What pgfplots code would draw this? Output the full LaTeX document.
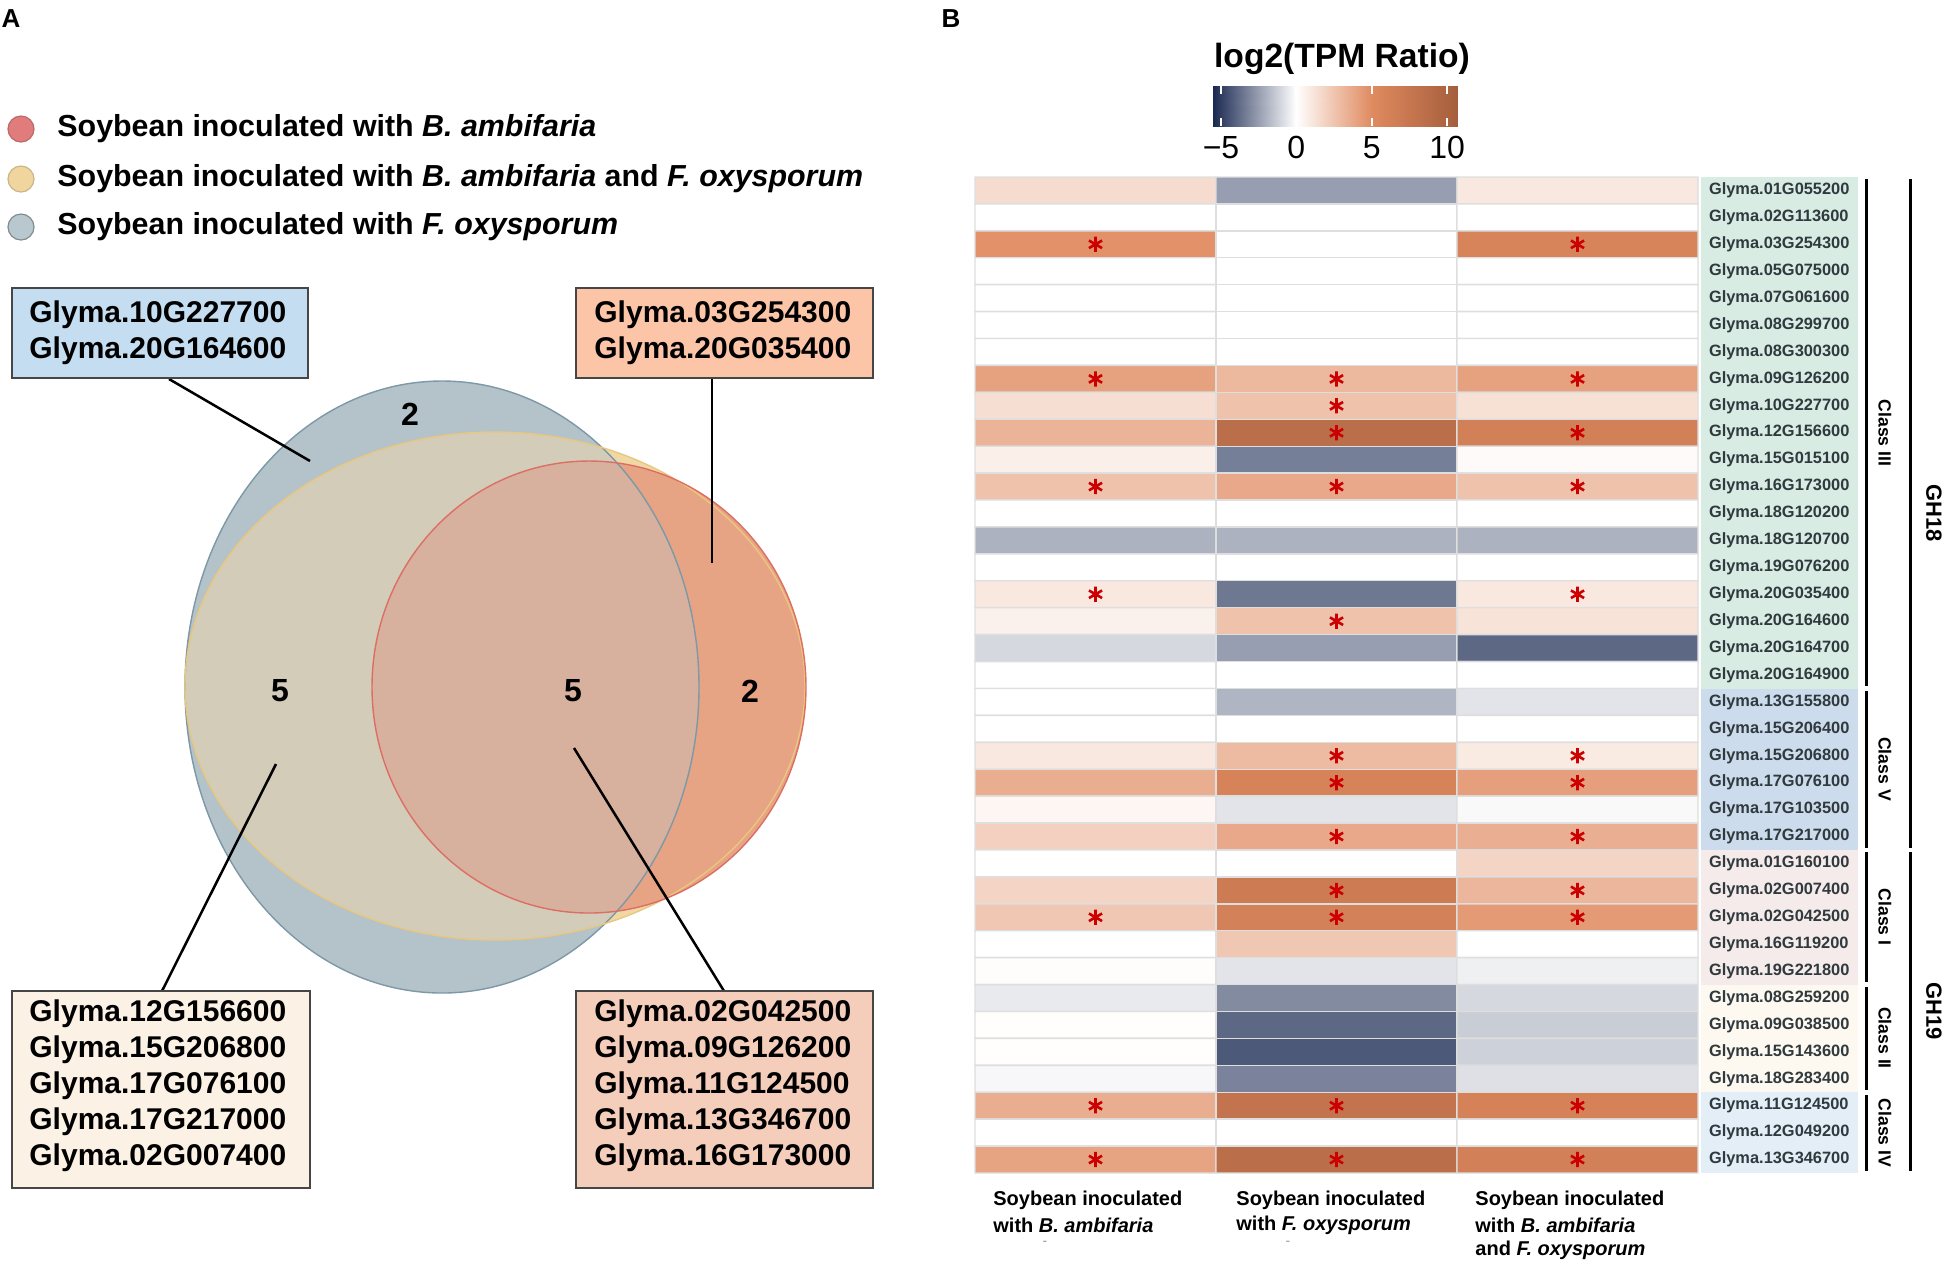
\documentclass[border=0pt]{standalone}
\usepackage{pgfplots}
\pgfplotsset{compat=1.18}
\usepackage{fontspec}
\setmainfont{Liberation Sans}
\definecolor{vgray}{RGB}{180,194,201}
\definecolor{vgrayline}{RGB}{125,152,166}
\definecolor{vyel}{RGB}{240,216,166}
\definecolor{vyelgray}{RGB}{211,204,185}
\definecolor{vyelline}{RGB}{233,199,126}
\definecolor{vred}{RGB}{230,164,132}
\definecolor{vredgray}{RGB}{216,177,158}
\definecolor{vredline}{RGB}{220,110,100}
\definecolor{lgred}{RGB}{224,124,124}
\definecolor{lgyel}{RGB}{240,214,158}
\definecolor{lggray}{RGB}{184,200,206}
\definecolor{boxblue}{RGB}{196,221,240}
\definecolor{boxorange}{RGB}{253,197,168}
\definecolor{boxcream}{RGB}{252,241,229}
\definecolor{boxpink}{RGB}{244,205,187}
\definecolor{boxline}{RGB}{70,70,70}
\definecolor{bgIII}{RGB}{216,236,228}
\definecolor{bgV}{RGB}{205,220,236}
\definecolor{bgI}{RGB}{245,235,234}
\definecolor{bgII}{RGB}{253,248,240}
\definecolor{bgIV}{RGB}{228,238,247}
\definecolor{rowtext}{RGB}{48,58,62}
\definecolor{starred}{RGB}{204,0,0}
\newcommand{\fsz}[1]{\fontsize{#1}{#1}\selectfont}
\pgfplotsset{tpmmap/.style={colormap={tpm}{rgb255(0cm)=(26,41,82); rgb255(5.53cm)=(255,255,255); rgb255(10.53cm)=(224,138,95); rgb255(16.19cm)=(165,94,60)},
  point meta min=-5.53, point meta max=10.66}}
\begin{document}
\begin{tikzpicture}
\useasboundingbox (0,0) rectangle (974.5bp,-633bp);
% ---------------- canvas axis (panel A and annotations) ----------------
\begin{axis}[at={(0,0)}, anchor=north west, width=974.5bp, height=633bp,
  scale only axis, xmin=0, xmax=1949, ymin=0, ymax=1266, y dir=reverse,
  hide axis, clip=false]
% panel letters
\node[font=\bfseries\fsz{13bp}] at (axis cs:11,19) {A};
\node[font=\bfseries\fsz{13bp}] at (axis cs:951,19) {B};
% legend
\fill[lgred, draw=lgred!85!black, line width=0.6bp] (axis cs:21,129) circle [radius=6.5bp];
\fill[lgyel, draw=lgyel!85!black, line width=0.6bp] (axis cs:21,179) circle [radius=6.5bp];
\fill[lggray, draw=lggray!70!black, line width=0.6bp] (axis cs:21,227) circle [radius=6.5bp];
\node[anchor=west, inner sep=0pt, font=\bfseries\fsz{15.2bp}] at (axis cs:57,129) {Soybean inoculated with \textit{B. ambifaria}};
\node[anchor=west, inner sep=0pt, font=\bfseries\fsz{15.2bp}] at (axis cs:57,179) {Soybean inoculated with \textit{B. ambifaria} and \textit{F. oxysporum}};
\node[anchor=west, inner sep=0pt, font=\bfseries\fsz{15.2bp}] at (axis cs:57,227) {Soybean inoculated with \textit{F. oxysporum}};
% venn fills
\fill[vgray] (axis cs:442,687) ellipse [x radius=128.5bp, y radius=153bp];
\fill[vyel] (axis cs:495,686) ellipse [x radius=155bp, y radius=127bp];
\begin{scope}
\clip (axis cs:442,687) ellipse [x radius=128.5bp, y radius=153bp];
\fill[vyelgray] (axis cs:495,686) ellipse [x radius=155bp, y radius=127bp];
\end{scope}
\fill[vred] (axis cs:589,687) ellipse [x radius=108.5bp, y radius=113bp];
\begin{scope}
\clip (axis cs:442,687) ellipse [x radius=128.5bp, y radius=153bp];
\fill[vredgray] (axis cs:589,687) ellipse [x radius=108.5bp, y radius=113bp];
\end{scope}
\draw[vgrayline, line width=0.7bp] (axis cs:442,687) ellipse [x radius=128.5bp, y radius=153bp];
\draw[vyelline, line width=0.7bp] (axis cs:495,686) ellipse [x radius=155bp, y radius=127bp];
\draw[vredline, line width=0.7bp] (axis cs:589,687) ellipse [x radius=108.5bp, y radius=113bp];
% venn counts
\node[font=\bfseries\fsz{16bp}] at (axis cs:410,414) {2};
\node[font=\bfseries\fsz{16bp}] at (axis cs:280,691) {5};
\node[font=\bfseries\fsz{16bp}] at (axis cs:573,691) {5};
\node[font=\bfseries\fsz{16bp}] at (axis cs:750,691) {2};
% leader lines
\draw[line width=1.25bp] (axis cs:169,379) -- (axis cs:310,461);
\draw[line width=1.25bp] (axis cs:712,379) -- (axis cs:712,563);
\draw[line width=1.25bp] (axis cs:276,764) -- (axis cs:162,991);
\draw[line width=1.25bp] (axis cs:574,748) -- (axis cs:724,991);
% boxes
\draw[fill=boxblue, draw=boxline, line width=1bp] (axis cs:12,288) rectangle (axis cs:308,378);
\draw[fill=boxorange, draw=boxline, line width=1bp] (axis cs:576,288) rectangle (axis cs:873,378);
\draw[fill=boxcream, draw=boxline, line width=1bp] (axis cs:12,991) rectangle (axis cs:310,1188);
\draw[fill=boxpink, draw=boxline, line width=1bp] (axis cs:576,991) rectangle (axis cs:873,1188);
\tikzset{bx/.style={anchor=west, inner sep=0pt, font=\bfseries\fsz{15bp}}}
\node[bx] at (axis cs:29,315) {Glyma.10G227700};
\node[bx] at (axis cs:29,351) {Glyma.20G164600};
\node[bx] at (axis cs:594,315) {Glyma.03G254300};
\node[bx] at (axis cs:594,351) {Glyma.20G035400};
\node[bx] at (axis cs:29,1014) {Glyma.12G156600};
\node[bx] at (axis cs:29,1050) {Glyma.15G206800};
\node[bx] at (axis cs:29,1086) {Glyma.17G076100};
\node[bx] at (axis cs:29,1122) {Glyma.17G217000};
\node[bx] at (axis cs:29,1158) {Glyma.02G007400};
\node[bx] at (axis cs:594,1014) {Glyma.02G042500};
\node[bx] at (axis cs:594,1050) {Glyma.09G126200};
\node[bx] at (axis cs:594,1086) {Glyma.11G124500};
\node[bx] at (axis cs:594,1122) {Glyma.13G346700};
\node[bx] at (axis cs:594,1158) {Glyma.16G173000};
% colorbar title
\node[font=\bfseries\fsz{16.8bp}] at (axis cs:1342,59) {log2(TPM Ratio)};
% row label backgrounds
\fill[bgIII] (axis cs:1701,177) rectangle (axis cs:1858,688.5);
\fill[bgV] (axis cs:1701,688.5) rectangle (axis cs:1858,850);
\fill[bgI] (axis cs:1701,850) rectangle (axis cs:1858,984.6);
\fill[bgII] (axis cs:1701,984.6) rectangle (axis cs:1858,1092.3);
\fill[bgIV] (axis cs:1701,1092.3) rectangle (axis cs:1858,1173);
% class brackets
\draw[line width=1.5bp] (axis cs:1866,179) -- (axis cs:1866,686);
\draw[line width=1.5bp] (axis cs:1866,691) -- (axis cs:1866,848);
\draw[line width=1.5bp] (axis cs:1866,852) -- (axis cs:1866,982);
\draw[line width=1.5bp] (axis cs:1866,987) -- (axis cs:1866,1090);
\draw[line width=1.5bp] (axis cs:1866,1095) -- (axis cs:1866,1171);
\draw[line width=1.5bp] (axis cs:1910,179) -- (axis cs:1910,848);
\draw[line width=1.5bp] (axis cs:1910,852) -- (axis cs:1910,1171);
\tikzset{cl/.style={rotate=-90, inner sep=0pt, font=\bfseries\fsz{8.8bp}}}
\node[cl] at (axis cs:1885,433) {Class III};
\node[cl] at (axis cs:1885,769) {Class V};
\node[cl] at (axis cs:1885,917) {Class I};
\node[cl] at (axis cs:1885,1038) {Class II};
\node[cl] at (axis cs:1885,1133) {Class IV};
\node[rotate=-90, inner sep=0pt, font=\bfseries\fsz{11bp}] at (axis cs:1934,513) {GH18};
\node[rotate=-90, inner sep=0pt, font=\bfseries\fsz{11bp}] at (axis cs:1934,1011) {GH19};
% column labels
\tikzset{cx/.style={anchor=west, inner sep=0pt, font=\bfseries\fsz{10bp}}}
\node[cx] at (axis cs:993,1200) {Soybean inoculated};
\node[cx] at (axis cs:993,1225) {with \textit{B. ambifaria}};
\node[cx] at (axis cs:1236,1200) {Soybean inoculated};
\node[cx] at (axis cs:1236,1225) {with \textit{F. oxysporum}};
\node[cx] at (axis cs:1475,1200) {Soybean inoculated};
\node[cx] at (axis cs:1475,1225) {with \textit{B. ambifaria}};
\node[cx] at (axis cs:1475,1250) {and \textit{F. oxysporum}};
\node[text=black!40, font=\fsz{7bp}] at (axis cs:1045,1243) {-};
\node[text=black!40, font=\fsz{7bp}] at (axis cs:1288,1243) {-};
\end{axis}
% ---------------- colorbar axis ----------------
\begin{axis}[at={(606.5bp,-43bp)}, anchor=north west, width=122bp, height=20bp,
  scale only axis, xmin=-5.53, xmax=10.66, ymin=0, ymax=1, axis on top,
  tpmmap,
  xtick={-5,0,5,10}, xticklabels={−5,0,5,10}, xtick pos=both, xticklabel pos=lower,
  ytick=\empty, tick align=inside, major tick length=4bp,
  xtick style={white, line width=1bp}, axis line style={draw=none},
  xticklabel style={font=\fsz{16bp}, text=black, yshift=-1.5bp}]
\addplot[surf, shader=interp, mesh/rows=2, point meta=x] coordinates {
(-5.53,0) (0,0) (5,0) (10.66,0)
(-5.53,1) (0,1) (5,1) (10.66,1)};
\end{axis}
% ---------------- heatmap axis ----------------
\begin{axis}[at={(487.5bp,-88.5bp)}, anchor=north west,
  width=361.5bp, height=498bp, scale only axis,
  xmin=-0.5, xmax=2.5, ymin=0.5, ymax=37.5, y dir=reverse,
  axis line style={draw=none}, xtick=\empty,
  ytick={1,...,37},
  yticklabels={Glyma.01G055200,Glyma.02G113600,Glyma.03G254300,Glyma.05G075000,Glyma.07G061600,Glyma.08G299700,Glyma.08G300300,Glyma.09G126200,Glyma.10G227700,Glyma.12G156600,Glyma.15G015100,Glyma.16G173000,Glyma.18G120200,Glyma.18G120700,Glyma.19G076200,Glyma.20G035400,Glyma.20G164600,Glyma.20G164700,Glyma.20G164900,Glyma.13G155800,Glyma.15G206400,Glyma.15G206800,Glyma.17G076100,Glyma.17G103500,Glyma.17G217000,Glyma.01G160100,Glyma.02G007400,Glyma.02G042500,Glyma.16G119200,Glyma.19G221800,Glyma.08G259200,Glyma.09G038500,Glyma.15G143600,Glyma.18G283400,Glyma.11G124500,Glyma.12G049200,Glyma.13G346700},
  yticklabel pos=right, ytick style={draw=none}, major tick length=0pt,
  yticklabel style={font=\bfseries\fsz{8.2bp}, text=rowtext, anchor=west, xshift=2bp},
  tpmmap,
  clip=false]
\addplot[matrix plot*, mesh/cols=3, point meta=explicit, draw=black!13, line width=0.7bp]
 table[x=x, y=y, meta=v] {
x y v
0 1 1.5
1 1 -2.5
2 1 1.0
0 2 0
1 2 0
2 2 0
0 3 4.7
1 3 0
2 3 5.8
0 4 0
1 4 0
2 4 0
0 5 0
1 5 0
2 5 0
0 6 0
1 6 0
2 6 0
0 7 0
1 7 0
2 7 0
0 8 4.0
1 8 3.0
2 8 4.0
0 9 1.4
1 9 2.6
2 9 1.3
0 10 3.2
1 10 8.6
2 10 6.3
0 11 0.7
1 11 -3.3
2 11 0.2
0 12 2.6
1 12 3.7
2 12 2.6
0 13 0
1 13 0
2 13 0
0 14 -2.0
1 14 -2.0
2 14 -2.0
0 15 0
1 15 0
2 15 0
0 16 1.0
1 16 -3.5
2 16 1.0
0 17 0.6
1 17 2.6
2 17 1.2
0 18 -1.0
1 18 -2.5
2 18 -3.9
0 19 0
1 19 0
2 19 0
0 20 0
1 20 -1.9
2 20 -0.7
0 21 0
1 21 0
2 21 0
0 22 1.0
1 22 2.9
2 22 0.9
0 23 3.5
1 23 5.9
2 23 4.1
0 24 0.4
1 24 -0.7
2 24 -0.15
0 25 2.0
1 25 3.7
2 25 3.4
0 26 0
1 26 0
2 26 1.8
0 27 1.8
1 27 6.9
2 27 3.1
0 28 2.4
1 28 6.2
2 28 4.3
0 29 0
1 29 2.4
2 29 0
0 30 0.1
1 30 -0.7
2 30 -0.4
0 31 -0.55
1 31 -3.0
2 31 -1.0
0 32 0.05
1 32 -3.9
2 32 -1.3
0 33 0.05
1 33 -4.3
2 33 -1.2
0 34 -0.2
1 34 -3.2
2 34 -0.8
0 35 3.5
1 35 7.8
2 35 6.0
0 36 0
1 36 0
2 36 0
0 37 3.9
1 37 8.6
2 37 6.3
};
\addplot[only marks, mark=asterisk, mark size=3.8bp, line width=1.3bp, color=starred] coordinates {
(0,3) (2,3) (0,8) (1,8) (2,8) (1,9) (1,10) (2,10) (0,12) (1,12) (2,12)
(0,16) (2,16) (1,17) (1,22) (2,22) (1,23) (2,23) (1,25) (2,25) (1,27) (2,27)
(0,28) (1,28) (2,28) (0,35) (1,35) (2,35) (0,37) (1,37) (2,37)};
\end{axis}
\end{tikzpicture}
\end{document}
